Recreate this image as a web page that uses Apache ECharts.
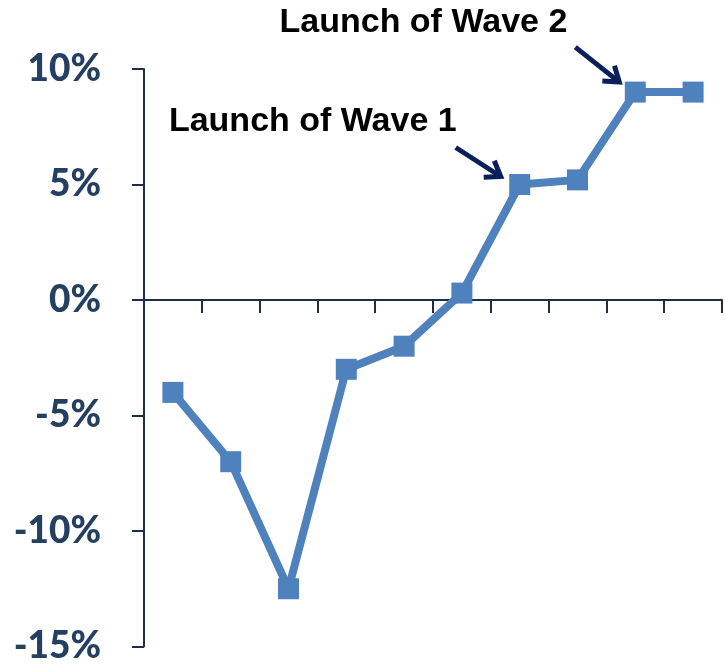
<!DOCTYPE html>
<html>
<head>
<meta charset="utf-8">
<script src="https://cdn.jsdelivr.net/npm/echarts@6/dist/echarts.min.js"></script>
<style>
  html, body { margin: 0; padding: 0; background: #ffffff; }
  #chart { width: 725px; height: 665px; }
</style>
</head>
<body>
<div id="chart"></div>
<script>
// Periods along the horizontal axis (labels are not shown)
const periods = ['P1', 'P2', 'P3', 'P4', 'P5', 'P6', 'P7', 'P8', 'P9', 'P10'];
// Percentage change for each period
const changePct = [-4, -7, -12.5, -3, -2, 0.3, 5, 5.2, 9, 9];
// Value axis range and step (percent)
const yMin = -15;
const yMax = 10;
const yStep = 5;
// Callout texts and the period each one points at
const calloutTexts = ['Launch of Wave 1', 'Launch of Wave 2'];
const calloutPeriods = ['P7', 'P9'];

// Pixel offsets of each callout relative to the point it marks
const calloutLayout = [
  { textRight: -63, textMid: -63, tail: [-64, -37], tip: [-19, -8] },
  { textRight: -68, textMid: -69, tail: [-60, -45], tip: [-16, -10] }
];

const AXIS_COLOR = '#1C2E4A';
const LABEL_COLOR = '#243F60';
const LINE_COLOR = '#4F81BD';
const ARROW_COLOR = '#0B1F5B';

const chart = echarts.init(document.getElementById('chart'));

chart.setOption({
  animation: false,
  backgroundColor: '#ffffff',
  grid: { left: 144, right: 3, top: 69, bottom: 18, containLabel: false },
  xAxis: {
    type: 'category',
    data: periods,
    boundaryGap: true,
    axisLine: { onZero: true, lineStyle: { color: AXIS_COLOR, width: 2 } },
    axisTick: { show: true, length: 13, inside: false, lineStyle: { color: AXIS_COLOR, width: 2 } },
    axisLabel: { show: false },
    splitLine: { show: false }
  },
  yAxis: {
    type: 'value',
    min: yMin,
    max: yMax,
    interval: yStep,
    axisLine: { show: true, lineStyle: { color: AXIS_COLOR, width: 2 } },
    axisTick: { show: true, length: 12, lineStyle: { color: AXIS_COLOR, width: 2 } },
    axisLabel: {
      margin: 43,
      color: LABEL_COLOR,
      fontFamily: 'Lato',
      fontWeight: 900,
      fontSize: 37,
      formatter: v => v + '%'
    },
    splitLine: { show: false }
  },
  series: [{
    type: 'line',
    data: changePct,
    symbol: 'rect',
    symbolSize: 21,
    lineStyle: { color: LINE_COLOR, width: 8 },
    itemStyle: { color: LINE_COLOR },
    emphasis: { disabled: true }
  }]
});

// Arrow callouts anchored to the data points they refer to
function arrowHead(tail, tip, len, angleDeg) {
  const dx = tip[0] - tail[0], dy = tip[1] - tail[1];
  const d = Math.hypot(dx, dy);
  const ux = dx / d, uy = dy / d;
  const a = angleDeg * Math.PI / 180;
  const rot = (s) => [
    tip[0] - len * (ux * Math.cos(s * a) - uy * Math.sin(s * a)),
    tip[1] - len * (uy * Math.cos(s * a) + ux * Math.sin(s * a))
  ];
  return [rot(1), tip, rot(-1)];
}

const graphics = [];
calloutTexts.forEach((text, i) => {
  const idx = periods.indexOf(calloutPeriods[i]);
  const p = chart.convertToPixel({ seriesIndex: 0 }, [idx, changePct[idx]]);
  const L = calloutLayout[i];
  const tail = [p[0] + L.tail[0], p[1] + L.tail[1]];
  const tip = [p[0] + L.tip[0], p[1] + L.tip[1]];
  graphics.push({
    type: 'text',
    style: {
      text: text,
      x: p[0] + L.textRight,
      y: p[1] + L.textMid,
      align: 'right',
      verticalAlign: 'middle',
      font: 'bold 34px "Liberation Sans", Arial, sans-serif',
      fill: '#000000'
    }
  });
  graphics.push({
    type: 'polyline',
    shape: { points: [tail, tip] },
    style: { stroke: ARROW_COLOR, lineWidth: 5, lineCap: 'butt' }
  });
  graphics.push({
    type: 'polyline',
    shape: { points: arrowHead(tail, tip, 17, 35) },
    style: { stroke: ARROW_COLOR, fill: null, lineWidth: 5, lineJoin: 'miter', lineCap: 'butt' }
  });
});

chart.setOption({ graphic: graphics });
</script>
</body>
</html>
